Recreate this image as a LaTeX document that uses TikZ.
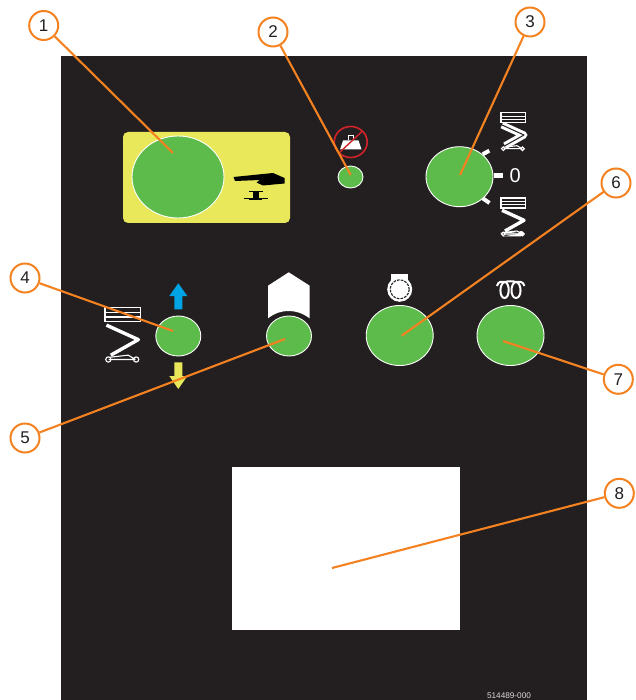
\documentclass[tikz,border=0pt]{standalone}
\usepackage{fontspec}
\setmainfont{Liberation Sans}
\definecolor{panelblack}{HTML}{231F20}
\definecolor{panelyellow}{HTML}{E8E85A}
\definecolor{lampgreen}{HTML}{5CBB4A}
\definecolor{calloutorange}{HTML}{F58220}
\definecolor{arrowblue}{HTML}{00A4E4}
\definecolor{signred}{HTML}{D2232A}
\tikzset{
  lamp/.style={draw=white, line width=0.9pt, fill=lampgreen},
  callout/.style={circle, draw=calloutorange, line width=2pt, fill=white, text=panelblack, minimum size=29pt, inner sep=0pt, font=\fontsize{17}{17}\selectfont},
  leader/.style={calloutorange, line width=2.1pt},
  liftbars/.style={draw=white, line width=1.1pt},
  pics/lift/.style={code={
    \draw[liftbars] (0,0) rectangle (24.7,10);
    \draw[liftbars] (0,3.4) -- (24.7,3.4) (0,6.7) -- (24.7,6.7);
    \draw[white, line join=round, #1] (1,12.3) -- (23,22.3) -- (4,33);
    \draw[liftbars] (2.5,36) -- (21,36) (3,34.5) -- (16,33) -- (21,36);
    \draw[liftbars] (2.3,36) circle (1.8);
    \draw[liftbars] (21.5,36) circle (1.8);
  }}
}
\begin{document}
\begin{tikzpicture}[x=1pt, y=-1pt]
    % Page and panel
    \useasboundingbox (0,0) rectangle (635,700);
    \fill[white] (0,0) rectangle (635,700);
    \fill[panelblack] (61,56) rectangle (587,700);

    % Yellow display
    \fill[panelyellow, rounded corners=5pt] (123,132) rectangle (290,223);
    \fill[black] (233.5,177) -- (273,173) -- (284.5,178) -- (284.5,183.5) -- (263,185.5) -- (256.5,182.5) -- (260,180) -- (235,181) -- cycle;
    \fill[black] (248.5,191) rectangle (262.5,192.5);
    \fill[black] (252.5,192) rectangle (259,200.5);
    \fill[black] (249,199.5) rectangle (262,200.5);
    \draw[black, line width=0.4pt] (243.5,198.5) -- (267.5,198.5);

    % Lamps
    \draw[lamp] (178,177) ellipse (46pt and 41pt);
    \draw[lamp] (350.5,177) ellipse (12.5pt and 11pt);
    \draw[lamp] (459.5,176.7) ellipse (33.5pt and 30pt);
    \draw[lamp] (178.3,336) ellipse (22.5pt and 20pt);
    \draw[lamp] (289,336) ellipse (22.5pt and 20pt);
    \draw[lamp] (399.7,335.5) ellipse (33.5pt and 30pt);
    \draw[lamp] (510.5,335.5) ellipse (33.5pt and 30pt);

    % No load sign
    \fill[white] (343,140.5) -- (358.5,140.5) -- (361.5,149.5) -- (340,149.5) -- cycle;
    \draw[white, line width=0.9pt] (348,140.5) -- (348,135) -- (353.5,135) -- (353.5,140.5);
    \draw[signred, line width=1.6pt] (350.7,142) ellipse (16.5pt and 15.5pt);
    \draw[signred, line width=1.4pt] (339,153) -- (362.5,131);

    % Key switch marks
    \draw[white, line width=4pt] (482.7,154.3) -- (489.3,150.7);
    \fill[white] (493.7,173) rectangle (503,178);
    \draw[white, line width=4pt] (482.7,198.3) -- (489.5,203);
    \node[white, font=\fontsize{20}{20}\selectfont] (zero) at (515.3,176) {0};

    % Lift symbols
    \pic at (501,112.7) {lift={line width=3pt, double=panelblack, double distance=1pt}};
    \pic at (501,198) {lift={line width=3.4pt}};
    \fill[white] (500,233) -- (506,231.5) -- (521,233.5) circle (2.5) -- (521,236.5) -- (502,236.5) -- cycle;
    \pic[scale=1.45] at (105,307.3) {lift={line width=3.4pt}};

    % Up and down arrows
    \fill[arrowblue] (178.3,283.3) -- (187.3,296) -- (182.3,296) -- (182.3,309.3) -- (174.3,309.3) -- (174.3,296) -- (169.3,296) -- cycle;
    \fill[panelyellow] (178.3,389) -- (187.3,376) -- (182.3,376) -- (182.3,362.3) -- (174.3,362.3) -- (174.3,376) -- (169.3,376) -- cycle;

    % House symbol
    \fill[white] (288.7,272.3) -- (309.7,285.7) -- (309.7,318.3) .. controls (302,313) and (296,311) .. (288.7,311) .. controls (281,311) and (275,313) .. (268,318.3) -- (268,285.7) -- cycle;

    % Engine start symbol
    \fill[white] (391.3,274) rectangle (407.7,285);
    \fill[white] (399.7,289.3) circle (12.5);
    \draw[panelblack, line width=1.1pt, dash pattern=on 2.6pt off 1.2pt] (399.7,289.3) circle (9.5);

    % Glow plug symbol
    \draw[white, line width=2pt] (497,286) .. controls (498,281) and (502,281.5) .. (505,282) .. controls (510,283) and (510,298) .. (504.5,298) .. controls (499,298) and (499,283) .. (505,282) .. controls (508,281) and (513,281) .. (516,282) .. controls (522,283) and (522,298) .. (516,298) .. controls (510,298) and (510,283) .. (516,282) .. controls (519,281.5) and (523,281) .. (524.5,286);

    % White window
    \fill[white] (232,467) rectangle (460,630);

    % Part number
    \node[white!85!black, font=\fontsize{8.2}{8.2}\selectfont, inner sep=0pt] (partno) at (509,696) {514489-000};

    % Callouts
    \node[callout] (c1) at (43.7,25.5) {1};
    \node[callout] (c2) at (273,32) {2};
    \node[callout] (c3) at (530,22) {3};
    \node[callout] (c4) at (25,278) {4};
    \node[callout] (c5) at (25,438) {5};
    \node[callout] (c6) at (616,183) {6};
    \node[callout] (c7) at (618.3,379.3) {7};
    \node[callout] (c8) at (619.3,493.3) {8};

    % Leader ends
    \coordinate (t1) at (173,153);
    \coordinate (t2) at (350.7,175);
    \coordinate (t3) at (460,175);
    \coordinate (t4) at (173,331);
    \coordinate (t5) at (285,339);
    \coordinate (t6) at (401.7,335.7);
    \coordinate (t7) at (503,341);
    \coordinate (t8) at (332,568);

    % Leaders
    \draw[leader] (c1) -- (t1);
    \draw[leader] (c2) -- (t2);
    \draw[leader] (c3) -- (t3);
    \draw[leader] (c4) -- (t4);
    \draw[leader] (c5) -- (t5);
    \draw[leader] (c6) -- (t6);
    \draw[leader] (c7) -- (t7);
    \draw[leader] (c8) -- (t8);
\end{tikzpicture}
\end{document}
